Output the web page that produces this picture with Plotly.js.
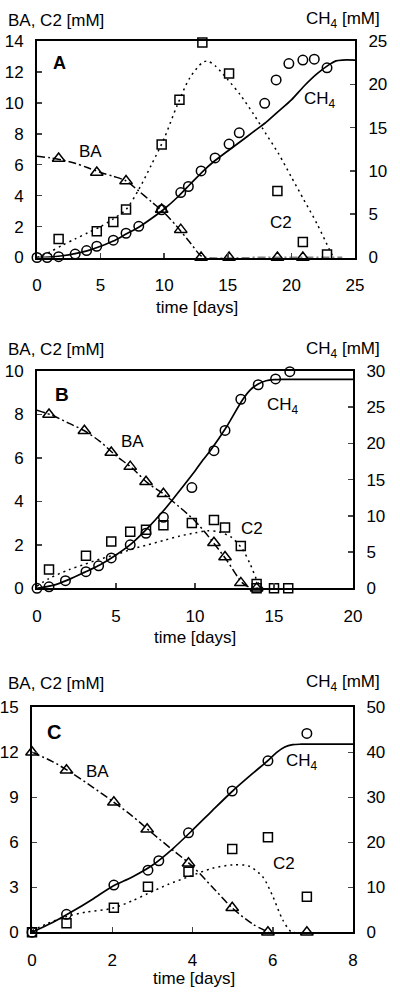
<!DOCTYPE html>
<html><head><meta charset="utf-8">
<script src="https://cdn.plot.ly/plotly-3.0.1.min.js"></script>
<style>html,body{margin:0;padding:0;background:#fff}#chart{width:400px;height:1005px}</style>
</head><body><div id="chart"></div>
<script>
// ---------- Panel A ----------
const aCH4Days = [0,0.8,1.7,3.0,3.9,4.7,6.0,7.0,8.0,9.8,11.3,11.9,12.9,14.0,15.1,15.9,17.9,18.8,19.8,20.9,21.8,22.8];
const aCH4 = [0,0,0.1,0.4,0.8,1.3,2.0,2.8,3.6,5.5,7.5,8.2,10.0,11.5,13.1,14.4,17.8,20.5,22.4,22.8,22.9,21.9];
const aC2Days = [1.7,4.7,6.0,7.0,9.8,11.2,13.0,15.1,18.9,20.9,22.8];
const aC2 = [1.2,1.7,2.3,3.1,7.3,10.2,13.9,11.9,4.3,1.0,0.2];
const aBADays = [1.7,4.7,7.0,9.8,11.3,12.9,15.1,18.9,20.9];
const aBA = [6.4,5.5,4.95,3.1,1.8,0,0,0,0];
const aCH4FitDays = [0,1,2,3,4,5,6,7,8,9,10,11,12,13,14,15,16,17,18,19,20,21,22,23,23.5,24,25];
const aCH4Fit = [0,0.05,0.2,0.45,0.8,1.3,1.9,2.7,3.5,4.5,5.6,6.9,8.4,9.9,11.2,12.3,13.4,14.5,15.6,16.9,18.2,19.8,21.2,22.3,22.7,22.8,22.8];
const aC2FitDays = [0,1,2,3,4,5,6,7,8,9,10,11,12,13,13.4,14,15,16,17,18,19,20,21,22,23,23.3];
const aC2Fit = [0,0.35,0.8,1.2,1.6,2.0,2.5,3.1,4.4,6.0,7.7,9.8,11.6,12.6,12.7,12.4,11.5,10.5,9.3,8.0,6.7,5.2,3.7,2.2,0.5,0];
const aBAFitDays = [0,1,2,3,4,5,6,7,8,9,10,11,12,12.9,13.3,18,24];
const aBAFit = [6.55,6.45,6.3,6.1,5.8,5.5,5.25,4.95,4.3,3.6,2.9,2.0,1.0,0.1,0,0,0];

// ---------- Panel B ----------
const bCH4Days = [0,0.76,1.8,3.1,3.9,4.7,5.9,6.9,8.0,9.8,11.2,11.9,12.9,14.0,15.1,16.0];
const bCH4 = [0,0.2,1.05,2.3,3.1,4.2,6.0,7.6,9.8,13.9,19.0,21.8,26.1,28.1,28.9,29.9];
const bC2Days = [0.76,3.1,4.7,5.9,6.9,8.0,9.8,11.2,11.9,12.9,13.9,13.9,15.0,15.9];
const bC2 = [0.87,1.5,2.15,2.6,2.7,2.9,3.0,3.14,2.8,1.95,0.2,0,0,0];
const bBADays = [0.76,3.0,4.7,5.9,6.9,8.0,11.2,11.9,12.9,13.9];
const bBA = [8.0,7.25,6.25,5.6,4.9,4.35,2.1,1.44,0.25,0];
const bCH4FitDays = [0,1,2,3,4,5,6,7,8,8.6,9,10,10.5,11,12,13,13.5,14,14.5,15,15.5,16,18,20];
const bCH4Fit = [0,0.4,1.2,2.2,3.25,4.6,6.2,8.3,10.7,12.3,13.4,16.2,17.7,19.1,22.3,26.0,27.4,28.2,28.65,28.8,28.85,28.85,28.85,28.85];
const bC2FitDays = [0,0.76,2,3,4,5,6,7,8,9,10,10.8,11.5,12.3,13,13.5,14,14.3];
const bC2Fit = [0.1,0.45,0.85,1.1,1.35,1.55,1.8,2.0,2.2,2.4,2.55,2.65,2.6,2.35,1.8,1.1,0.25,0];
const bBAFitDays = [0,1,2,3,4,5,6,7,8,9,10,11,12,13,13.6,14];
const bBAFit = [8.2,7.95,7.6,7.25,6.75,6.1,5.55,4.85,4.35,3.75,3.1,2.25,1.3,0.25,0,0];

// ---------- Panel C ----------
const cCH4Days = [0,0.86,2.04,2.89,3.16,3.9,4.99,5.88,6.85];
const cCH4 = [0,4.0,10.5,13.8,15.9,22.1,31.4,38.1,44.2];
const cC2Days = [0,0.86,2.04,2.89,3.9,4.99,5.88,6.85];
const cC2 = [0,0.6,1.64,3.04,4.04,5.55,6.33,2.37];
const cBADays = [0,0.86,2.04,2.87,3.9,4.99,5.88,6.85];
const cBA = [12,10.8,8.67,6.87,4.6,1.64,0,0];
const cCH4FitDays = [0,0.5,1,1.5,2,2.5,3,3.5,4,4.5,5,5.5,5.9,6.1,6.3,6.5,6.7,7,7.5,8];
const cCH4Fit = [0,2.1,4.6,7.3,10.2,12.3,14.9,18.5,22.7,27.1,31.4,35.3,38.3,40.0,41.2,41.7,41.8,41.8,41.8,41.8];
const cC2FitDays = [0,0.4,0.86,1.35,2,2.5,2.9,3.4,3.9,4.5,5,5.4,5.75,6,6.25,6.45,6.55];
const cC2Fit = [0.1,0.6,1.05,1.35,1.6,2.1,2.6,3.2,3.7,4.27,4.49,4.42,3.7,2.4,0.82,0.05,0];
const cBAFitDays = [0,0.5,1,1.5,2,2.5,3,3.5,4,4.5,5,5.5,5.9];
const cBAFit = [12,11.4,10.6,9.7,8.75,7.75,6.6,5.5,4.4,3.0,1.6,0.55,0];

const FONT = 'Liberation Sans, Arial, sans-serif';
const DASH_BA = '8px,3px,2px,3px';
const DASH_C2 = '2px,4px';

function line(x, y, xa, ya, dash, width) {
  return {x, y, xaxis: xa, yaxis: ya, type: 'scatter', mode: 'lines',
    line: {color: '#000', width: width || 1.5, dash: dash || 'solid', shape: 'spline', smoothing: 0.8},
    hoverinfo: 'skip', showlegend: false};
}
function pts(x, y, xa, ya, sym, size) {
  return {x, y, xaxis: xa, yaxis: ya, type: 'scatter', mode: 'markers', cliponaxis: false,
    marker: {symbol: sym, size: size, color: '#000', line: {color: '#000', width: 1.5}},
    hoverinfo: 'skip', showlegend: false};
}

const traces = [
  line(aBAFitDays, aBAFit, 'x', 'y', DASH_BA),
  line(aC2FitDays, aC2Fit, 'x', 'y', DASH_C2),
  line(aCH4FitDays, aCH4Fit, 'x', 'y2', 'solid', 1.7),
  pts(aBADays, aBA, 'x', 'y', 'triangle-up-open', 11),
  pts(aC2Days, aC2, 'x', 'y', 'square-open', 9),
  pts(aCH4Days, aCH4, 'x', 'y2', 'circle-open', 9.5),

  line(bBAFitDays, bBAFit, 'x2', 'y3', DASH_BA),
  line(bC2FitDays, bC2Fit, 'x2', 'y3', DASH_C2),
  line(bCH4FitDays, bCH4Fit, 'x2', 'y4', 'solid', 1.7),
  pts(bBADays, bBA, 'x2', 'y3', 'triangle-up-open', 11),
  pts(bC2Days, bC2, 'x2', 'y3', 'square-open', 9),
  pts(bCH4Days, bCH4, 'x2', 'y4', 'circle-open', 9.5),

  line(cBAFitDays, cBAFit, 'x3', 'y5', DASH_BA),
  line(cC2FitDays, cC2Fit, 'x3', 'y5', DASH_C2),
  line(cCH4FitDays, cCH4Fit, 'x3', 'y6', 'solid', 1.7),
  pts(cBADays, cBA, 'x3', 'y5', 'triangle-up-open', 11),
  pts(cC2Days, cC2, 'x3', 'y5', 'square-open', 9),
  pts(cCH4Days, cCH4, 'x3', 'y6', 'circle-open', 9.5),
];

const W = 400, H = 1005;
const px = v => v / W, py = v => 1 - v / H;
const tickFont = {family: FONT, size: 17, color: '#000'};

function xax(l, r, anchor, range, dtick) {
  return {domain: [px(l), px(r)], anchor, range, dtick, tick0: 0, ticks: 'inside', ticklen: 5, tickwidth: 1.5,
    showline: true, linewidth: 2, linecolor: '#000', mirror: true, showgrid: false, zeroline: false,
    tickfont: tickFont, ticklabelstandoff: 11, fixedrange: true};
}
function yax(top, bottom, anchor, range, dtick, right, overlay) {
  const o = {domain: [py(bottom), py(top)], anchor, range, dtick, tick0: 0, ticks: 'inside', ticklen: 5, tickwidth: 1.5,
    showline: true, linewidth: 2, linecolor: '#000', showgrid: false, zeroline: false,
    tickfont: tickFont, ticklabelstandoff: 8, fixedrange: true};
  if (right) { o.side = 'right'; o.overlaying = overlay; }
  return o;
}

function ann(text, x, y, xanchor, size, bold) {
  return {text: bold ? '<b>' + text + '</b>' : text, x: px(x), y: py(y), xref: 'paper', yref: 'paper',
    xanchor: xanchor || 'center', yanchor: 'middle', showarrow: false,
    font: {family: FONT, size: size || 17, color: '#000'}};
}

const annotations = [
  ann('BA, C2 [mM]', 6, 20, 'left'), ann('CH<sub>4</sub> [mM]', 382, 20, 'right'),
  ann('time [days]', 197, 307), ann('A', 59, 63, 'center', 18, true),
  ann('BA', 90, 152), ann('CH<sub>4</sub>', 320, 100), ann('C2', 281, 222),

  ann('BA, C2 [mM]', 6, 350, 'left'), ann('CH<sub>4</sub> [mM]', 382, 350, 'right'),
  ann('time [days]', 195, 637), ann('B', 62, 394, 'center', 19, true),
  ann('BA', 132, 441), ann('CH<sub>4</sub>', 283, 406), ann('C2', 252, 528),

  ann('BA, C2 [mM]', 6, 683, 'left'), ann('CH<sub>4</sub> [mM]', 382, 683, 'right'),
  ann('time [days]', 194, 978), ann('C', 54, 732, 'center', 20, true),
  ann('BA', 97, 771), ann('CH<sub>4</sub>', 302, 762), ann('C2', 284, 863),
];

const layout = {
  width: W, height: H, margin: {l: 0, r: 0, t: 0, b: 0},
  paper_bgcolor: '#fff', plot_bgcolor: 'rgba(0,0,0,0)', showlegend: false,
  font: {family: FONT, size: 17, color: '#000'},
  xaxis: xax(37, 355, 'y', [0, 25], 5),
  yaxis: yax(41, 257.5, 'x', [0, 14], 2),
  yaxis2: yax(41, 257.5, 'x', [0, 25], 5, true, 'y'),
  xaxis2: xax(37, 353, 'y3', [0, 20], 5),
  yaxis3: yax(371, 588.3, 'x2', [0, 10], 2),
  yaxis4: yax(371, 588.3, 'x2', [0, 30], 5, true, 'y3'),
  xaxis3: xax(32, 353, 'y5', [0, 8], 2),
  yaxis5: yax(707.3, 932.3, 'x3', [0, 15], 3),
  yaxis6: yax(707.3, 932.3, 'x3', [0, 50], 10, true, 'y5'),
  annotations
};

Plotly.newPlot('chart', traces, layout, {staticPlot: true, displayModeBar: false});
</script></body></html>
